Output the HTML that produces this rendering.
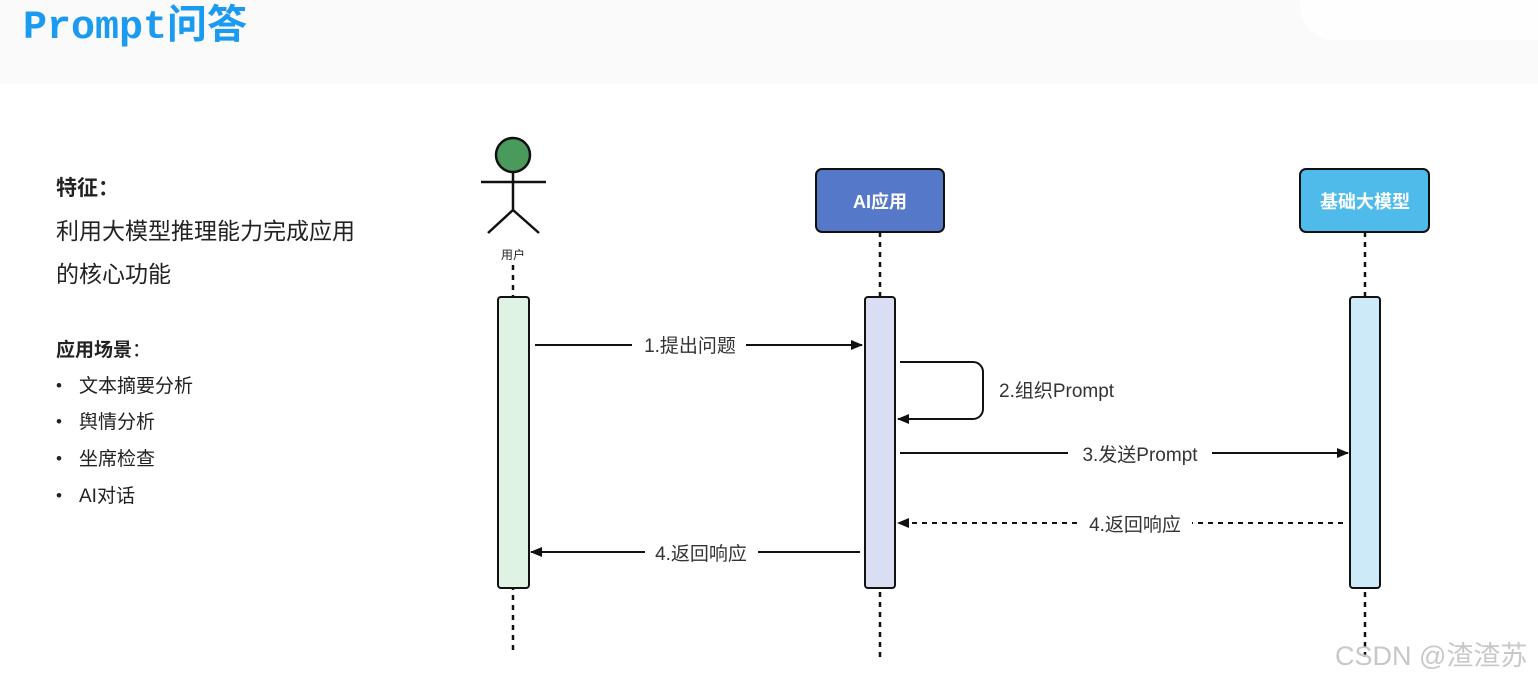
<!DOCTYPE html>
<html><head><meta charset="utf-8"><style>
body{margin:0;width:1538px;height:681px;background:#fff;overflow:hidden;position:relative;font-family:"Liberation Sans","Noto Sans CJK SC",sans-serif}
.t{position:absolute;white-space:nowrap;color:#222}
.b{position:absolute;left:56px;font-size:17px;color:#222}
.bt{position:absolute;left:79px;font-size:19px;color:#222;white-space:nowrap}
</style></head><body>
<div style="position:absolute;left:0;top:0;width:1538px;height:84px;background:#fafafa"></div>
<div style="position:absolute;left:1300px;top:-20px;width:260px;height:60px;background:#fefefe;border-radius:30px 0 0 40px"></div>
<div class="t" style="left:23px;top:5px;font-family:'Liberation Mono','Noto Sans CJK SC',monospace;font-weight:bold;font-size:40px;color:#1a9af0;line-height:48px">Prompt问答</div>
<div class="t" style="left:56px;top:172px;font-size:21px;font-weight:bold">特征：</div>
<div class="t" style="left:56px;top:212px;font-size:23px">利用大模型推理能力完成应用</div>
<div class="t" style="left:56px;top:255px;font-size:23px">的核心功能</div>
<div class="t" style="left:56px;top:335px;font-size:19px;font-weight:bold">应用场景<span style="font-weight:normal">：</span></div>
<div class="b" style="top:376px">•</div><div class="bt" style="top:371px">文本摘要分析</div>
<div class="b" style="top:412px">•</div><div class="bt" style="top:407px">舆情分析</div>
<div class="b" style="top:449px">•</div><div class="bt" style="top:444px">坐席检查</div>
<div class="b" style="top:486px">•</div><div class="bt" style="top:481px">AI对话</div>
<svg width="1538" height="681" style="position:absolute;left:0;top:0" font-family="Liberation Sans, Noto Sans CJK SC, sans-serif">
<defs><marker id="a" markerWidth="12" markerHeight="10" refX="11" refY="5" orient="auto" markerUnits="userSpaceOnUse"><path d="M0,0L12,5L0,10z" fill="#111"/></marker></defs>
<g stroke="#111" stroke-width="2.5" stroke-dasharray="5,5">
<line x1="513" y1="265" x2="513" y2="655"/>
<line x1="880" y1="232" x2="880" y2="658"/>
<line x1="1365" y1="232" x2="1365" y2="658"/>
</g>
<circle cx="513" cy="155" r="17" fill="#4a9a5e" stroke="#111" stroke-width="2.5"/>
<g stroke="#111" stroke-width="2.5" fill="none">
<line x1="513" y1="172" x2="513" y2="210"/><line x1="481" y1="182" x2="546" y2="182"/>
<polyline points="488,233 513,210 539,233"/></g>
<text x="513" y="259" font-size="12" text-anchor="middle" fill="#222">用户</text>
<rect x="816" y="169" width="128" height="63" rx="6" fill="#5578c8" stroke="#111" stroke-width="2"/>
<text x="880" y="208" font-size="18" font-weight="bold" fill="#fff" text-anchor="middle">AI应用</text>
<rect x="1300" y="169" width="129" height="63" rx="6" fill="#4fbbeb" stroke="#111" stroke-width="2"/>
<text x="1365" y="208" font-size="18" font-weight="bold" fill="#fff" text-anchor="middle">基础大模型</text>
<g stroke="#111" stroke-width="2">
<rect x="498" y="297" width="31" height="291" rx="3" fill="#dff3e4"/>
<rect x="865" y="297" width="30" height="291" rx="3" fill="#d9def5"/>
<rect x="1350" y="297" width="30" height="291" rx="3" fill="#cdeaf8"/>
</g>
<g stroke="#111" stroke-width="2" fill="none">
<line x1="535" y1="345" x2="632" y2="345"/><line x1="746" y1="345" x2="862" y2="345" marker-end="url(#a)"/>
<path d="M900,362H973a10,10 0 0 1 10,10V409a10,10 0 0 1 -10,10H898" marker-end="url(#a)"/>
<line x1="900" y1="453" x2="1068" y2="453"/><line x1="1212" y1="453" x2="1348" y2="453" marker-end="url(#a)"/>
<line x1="1343" y1="523" x2="1192" y2="523" stroke-dasharray="5,5"/><line x1="1077" y1="523" x2="898" y2="523" stroke-dasharray="5,5" marker-end="url(#a)"/>
<line x1="860" y1="552" x2="758" y2="552"/><line x1="645" y1="552" x2="531" y2="552" marker-end="url(#a)"/>
</g>
<g font-size="19" fill="#333">
<text x="690" y="352" text-anchor="middle">1.提出问题</text>
<text x="999" y="397">2.组织Prompt</text>
<text x="1140" y="461" text-anchor="middle">3.发送Prompt</text>
<text x="1135" y="531" text-anchor="middle">4.返回响应</text>
<text x="701" y="560" text-anchor="middle">4.返回响应</text>
</g>
<text x="1335" y="665" font-size="27" fill="#c8c8c8">CSDN @渣渣苏</text>
</svg>
</body></html>
